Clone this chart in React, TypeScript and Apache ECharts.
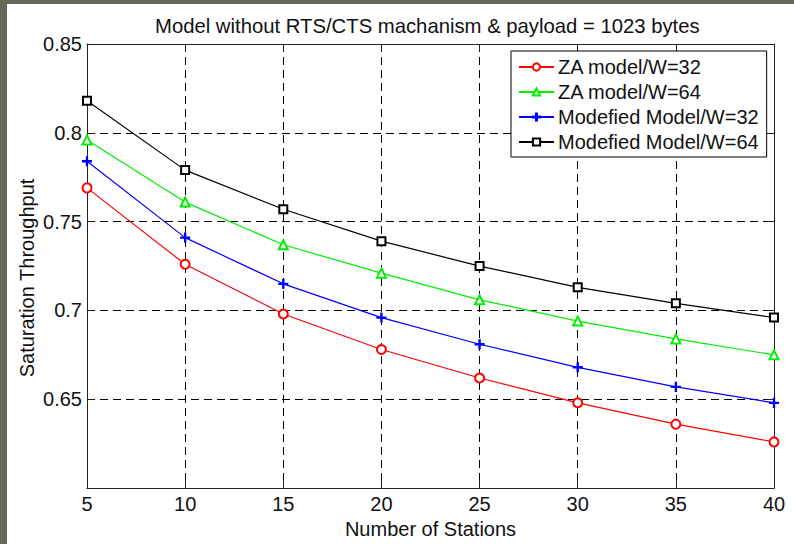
import React, { useEffect, useRef } from "react";
import * as echarts from "echarts";

const stations = [5, 10, 15, 20, 25, 30, 35, 40];
const zaW32 = [0.769, 0.726, 0.698, 0.678, 0.662, 0.648, 0.636, 0.626];
const zaW64 = [0.796, 0.761, 0.737, 0.721, 0.706, 0.694, 0.684, 0.675];
const modW32 = [0.784, 0.741, 0.715, 0.696, 0.681, 0.668, 0.657, 0.648];
const modW64 = [0.818, 0.779, 0.757, 0.739, 0.725, 0.713, 0.704, 0.696];
const seriesNames = [
  "ZA model/W=32",
  "ZA model/W=64",
  "Modefied Model/W=32",
  "Modefied Model/W=64",
];
const titleText = "Model without RTS/CTS machanism & payload = 1023 bytes";
const xName = "Number of Stations";
const yName = "Saturation Throughput";

const FONT = "Liberation Sans";
const PLUS =
  "path://M4.3,0 L5.7,0 L5.7,4.3 L10,4.3 L10,5.7 L5.7,5.7 L5.7,10 L4.3,10 L4.3,5.7 L0,5.7 L0,4.3 L4.3,4.3 Z";

export default function App() {
  const ref = useRef<HTMLDivElement>(null);
  useEffect(() => {
    if (!ref.current) return;
    const chart = echarts.init(ref.current, undefined, { renderer: "svg" });
    const pair = (vals: number[]) => stations.map((s, i) => [s, vals[i]]);
    const axisCommon = {
      axisLine: { show: true, onZero: false, lineStyle: { color: "#222", width: 1 } },
      axisTick: { show: true, inside: true, length: 7, lineStyle: { color: "#222" } },
    };
    const dashed = { show: true, lineStyle: { color: "#000", type: [8, 5], width: 1 } };
    const mk = (name: string, vals: number[], color: string, symbol: string, size: number) => ({
      name,
      type: "line",
      data: pair(vals),
      xAxisIndex: 0,
      yAxisIndex: 0,
      symbol,
      symbolSize: size,
      showAllSymbol: true,
      lineStyle: { color, width: 1.2 },
      itemStyle: { color, borderColor: color, borderWidth: 1.1 },
      z: 5,
    });
    chart.setOption({
      animation: false,
      backgroundColor: "#fff",
      textStyle: { fontFamily: FONT },
      title: {
        text: titleText,
        left: 150,
        top: 11,
        textStyle: { fontFamily: FONT, fontSize: 20.3, fontWeight: "normal", color: "#111" },
      },
      graphic: [
        { type: "rect", left: 0, top: 0, shape: { width: 7, height: 544 }, style: { fill: "#66665a" }, z: 100 },
        { type: "rect", left: 0, top: 0, shape: { width: 794, height: 4 }, style: { fill: "#66665a" }, z: 100 },
        {
          type: "text",
          x: 27,
          y: 278,
          rotation: Math.PI / 2,
          style: {
            text: yName,
            fontFamily: FONT,
            fontSize: 20,
            fill: "#111",
            align: "center",
            verticalAlign: "middle",
          },
        },
      ],
      grid: { left: 87, right: 20, top: 44, bottom: 49, containLabel: false },
      legend: {
        orient: "vertical",
        left: 511,
        top: 51,
        padding: [6, 8, 5, 7],
        itemGap: 5,
        itemWidth: 35,
        itemHeight: 9,
        backgroundColor: "#fff",
        borderColor: "#000",
        borderWidth: 1,
        borderRadius: 0,
        textStyle: { fontFamily: FONT, fontSize: 20, color: "#111", lineHeight: 20, padding: [0, 0, 0, -1] },
        data: seriesNames,
      },
      xAxis: [
        {
          type: "value",
          min: 5,
          max: 40,
          interval: 5,
          position: "bottom",
          ...axisCommon,
          splitLine: dashed,
          name: xName,
          nameLocation: "middle",
          nameGap: 28,
          nameTextStyle: { fontFamily: FONT, fontSize: 20, color: "#111" },
          axisLabel: { fontFamily: FONT, fontSize: 20, color: "#111", margin: 6 },
        },
        {
          type: "value",
          min: 5,
          max: 40,
          interval: 5,
          position: "top",
          ...axisCommon,
          splitLine: { show: false },
          axisLabel: { show: false },
        },
      ],
      yAxis: [
        {
          type: "value",
          min: 0.6,
          max: 0.85,
          interval: 0.05,
          position: "left",
          ...axisCommon,
          splitLine: dashed,
          axisLabel: {
            fontFamily: FONT,
            fontSize: 20,
            color: "#111",
            margin: 5,
            formatter: (v: number) => (Math.abs(v - 0.6) < 1e-6 ? "" : String(+v.toFixed(2))),
          },
        },
        {
          type: "value",
          min: 0.6,
          max: 0.85,
          interval: 0.05,
          position: "right",
          ...axisCommon,
          splitLine: { show: false },
          axisLabel: { show: false },
        },
      ],
      series: [
        mk(seriesNames[0], zaW32, "#ff0000", "emptyCircle", 9),
        mk(seriesNames[1], zaW64, "#00ee00", "emptyTriangle", 9),
        mk(seriesNames[2], modW32, "#0000ff", PLUS, 9),
        mk(seriesNames[3], modW64, "#000000", "emptyRect", 8),
      ],
    });
    return () => chart.dispose();
  }, []);
  return (
    <div
      ref={ref}
      style={{ position: "fixed", left: 0, top: 0, width: 794, height: 544 }}
    />
  );
}
